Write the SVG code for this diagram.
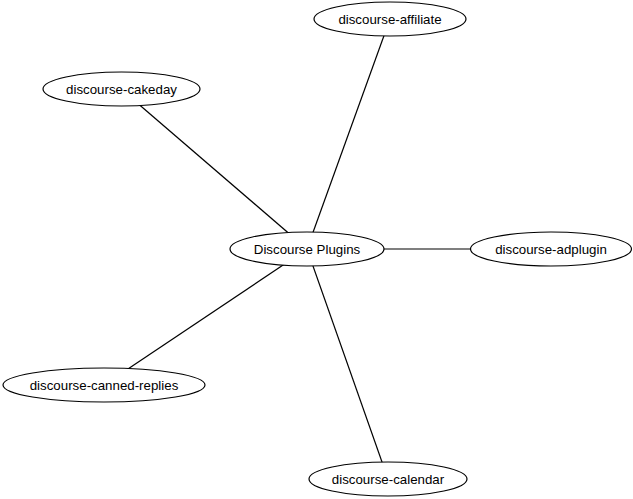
<svg xmlns="http://www.w3.org/2000/svg" width="633" height="499" viewBox="0 0 633 499">
<style>
.n ellipse{fill:#fff;stroke:#000;stroke-width:1.2}
.n text{font-family:"Liberation Sans",Arial,sans-serif;font-size:13.3px;text-anchor:middle;fill:#000}
.e line{stroke:#000;stroke-width:1.2}
</style>
<rect width="633" height="499" fill="#fff"/>
<g id="edges" class="e">
<line x1="307" y1="249" x2="390" y2="19"/>
<line x1="307" y1="249" x2="121" y2="89"/>
<line x1="307" y1="249" x2="551" y2="249"/>
<line x1="307" y1="249" x2="104" y2="385"/>
<line x1="307" y1="249" x2="388" y2="479"/>
</g>
<g id="plugins" class="n"><ellipse cx="307" cy="249" rx="77" ry="17"/><text x="307" y="254">Discourse Plugins</text></g>
<g id="affiliate" class="n"><ellipse cx="390" cy="19" rx="76" ry="17"/><text x="390" y="24">discourse-affiliate</text></g>
<g id="cakeday" class="n"><ellipse cx="121.5" cy="89" rx="78.5" ry="17"/><text x="121.5" y="94">discourse-cakeday</text></g>
<g id="adplugin" class="n"><ellipse cx="551" cy="249" rx="80.5" ry="17"/><text x="551" y="254">discourse-adplugin</text></g>
<g id="canned" class="n"><ellipse cx="104" cy="385" rx="101" ry="17"/><text x="104" y="390">discourse-canned-replies</text></g>
<g id="calendar" class="n"><ellipse cx="388" cy="479" rx="79" ry="17"/><text x="388" y="484">discourse-calendar</text></g>
</svg>
